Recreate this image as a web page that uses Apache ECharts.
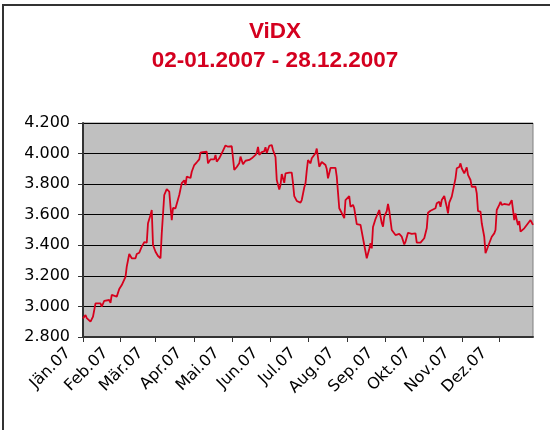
<!DOCTYPE html>
<html>
<head>
<meta charset="utf-8">
<script src="https://cdn.jsdelivr.net/npm/echarts@6/dist/echarts.min.js"></script>
<style>
  body { margin: 0; background: #fff; }
  #chart { position: absolute; left: 0; top: 0; width: 550px; height: 430px; }
  #frame { position: absolute; left: 2px; top: 4px; width: 548px; height: 426px;
           border-left: 2px solid #333; border-top: 2px solid #333; pointer-events: none; }
</style>
</head>
<body>
<div id="chart"></div>
<div id="frame"></div>
<script>
// ViDX daily closes 2007
var days = [
  '01-02','01-04','01-05','01-08','01-10','01-11','01-12','01-16','01-17','01-19',
  '01-23','01-24','01-25','01-29','01-31','02-02','02-05','02-06','02-08','02-10',
  '02-13','02-14','02-16','02-18','02-20','02-22','02-23','02-25','02-26','02-27',
  '03-01','03-03','03-05','03-06','03-08','03-10','03-12','03-13','03-14','03-15',
  '03-17','03-20','03-22','03-24','03-25','03-26','03-29','03-30','04-01','04-03',
  '04-05','04-06','04-08','04-11','04-12','04-14','04-17','04-18','04-19','04-21',
  '04-23','04-24','04-26','04-28','05-01','05-02','05-03','05-05','05-07','05-08',
  '05-10','05-12','05-15','05-17','05-20','05-21','05-22','05-23','05-25','05-27',
  '05-28','05-29','05-31','06-02','06-03','06-05','06-06','06-08','06-09','06-10',
  '06-12','06-13','06-16','06-18','06-19','06-20','06-22','06-23','06-25','06-26',
  '06-28','06-29','06-30','07-01','07-03','07-04','07-07','07-08','07-10','07-12',
  '07-15','07-16','07-17','07-19','07-23','07-24','07-26','07-28','07-30','07-31',
  '08-01','08-03','08-04','08-06','08-07','08-09','08-12','08-13','08-15','08-17',
  '08-19','08-20','08-21','08-22','08-24','08-27','08-29','08-30','08-31','09-02',
  '09-03','09-04','09-06','09-09','09-12','09-14','09-16','09-17','09-19','09-22',
  '09-25','09-26','09-29','10-02','10-04','10-05','10-07','10-08','10-11','10-12',
  '10-14','10-15','10-16','10-17','10-18','10-20','10-21','10-22','10-24','10-27',
  '10-28','10-30','10-31','11-01','11-03','11-05','11-06','11-08','11-09','11-12',
  '11-13','11-14','11-16','11-17','11-19','11-20','11-21','11-23','11-25','11-27',
  '11-28','11-29','12-01','12-02','12-03','12-05','12-07','12-09','12-11','12-12',
  '12-13','12-14','12-15','12-16','12-17','12-18','12-21','12-23','12-26','12-28'
];
var closes = [
  2922,2944,2924,2900,2933,2922,3020,3020,2998,3037,
  3042,3024,3075,3064,3114,3140,3194,3260,3343,3315,
  3315,3343,3351,3391,3420,3417,3544,3598,3631,3402,
  3358,3330,3315,3478,3729,3768,3751,3652,3565,3644,
  3642,3729,3807,3825,3794,3849,3840,3881,3925,3943,
  3962,4006,4010,4012,3936,3962,3962,3991,3947,3969,
  4002,3991,4053,4045,4048,3971,3893,3912,3936,3980,
  3930,3953,3958,3969,3991,4006,4043,3991,4010,4015,
  4041,4004,4050,4056,4023,3978,3827,3765,3794,3866,
  3809,3871,3875,3875,3806,3722,3690,3696,3679,3696,
  3778,3806,3889,3958,3936,3969,4002,4033,3914,3945,
  3925,3899,3838,3906,3906,3849,3642,3611,3578,3696,
  3703,3722,3652,3664,3642,3539,3533,3533,3402,3315,
  3376,3413,3380,3520,3572,3631,3546,3522,3587,3624,
  3670,3626,3500,3467,3474,3456,3406,3423,3482,3474,
  3478,3417,3417,3446,3511,3613,3626,3626,3642,3675,
  3685,3652,3696,3696,3722,3652,3609,3679,3718,3838,
  3904,3912,3936,3904,3871,3910,3860,3827,3783,3783,
  3740,3624,3620,3544,3456,3348,3358,3413,3456,3478,
  3500,3631,3664,3685,3664,3670,3668,3664,3696,3631,
  3565,3609,3565,3533,3559,3489,3511,3533,3565,3533
];
var tickDays = ['01-02','02-01','03-01','04-01','05-01','06-01','07-01','08-01','09-01','10-01','11-01','12-01'];
var monthLabels = ['Jän.07','Feb.07','Mär.07','Apr.07','Mai.07','Jun.07','Jul.07','Aug.07','Sep.07','Okt.07','Nov.07','Dez.07'];

function ts(md) {
  var p = md.split('-');
  return new Date(2007, +p[0] - 1, +p[1]).getTime();
}

var lineData = days.map(function (d, i) { return [ts(d), closes[i]]; });
var tickValues = tickDays.map(ts);

function deNum(v) {
  var k = Math.floor(v / 1000);
  var r = String(v % 1000);
  while (r.length < 3) r = '0' + r;
  return k + '.' + r;
}

var chart = echarts.init(document.getElementById('chart'));
chart.setOption({
  animation: false,
  title: {
    text: 'ViDX\n02-01.2007 - 28.12.2007',
    left: 'center',
    top: 12,
    textStyle: {
      fontFamily: 'Liberation Sans',
      fontSize: 22.5,
      fontWeight: 'bold',
      color: '#d4001f',
      lineHeight: 29
    }
  },
  grid: {
    left: 83, right: 17, top: 123, bottom: 93,
    show: true,
    backgroundColor: '#c0c0c0',
    borderColor: '#808080',
    borderWidth: 1,
    outerBoundsMode: 'none'
  },
  xAxis: {
    type: 'value',
    min: ts('01-02'),
    max: ts('12-28'),
    splitLine: { show: false },
    axisLine: { lineStyle: { color: '#333', width: 2 } },
    axisTick: { show: true, length: 5, customValues: tickValues, lineStyle: { color: '#333' } },
    axisLabel: {
      customValues: tickValues,
      rotate: 45,
      margin: 10,
      padding: [0, 13, 0, 0],
      verticalAlign: 'bottom',
      fontFamily: 'DejaVu Sans',
      fontSize: 16,
      color: '#000',
      formatter: function (v) { return monthLabels[new Date(v).getMonth()]; }
    }
  },
  yAxis: {
    type: 'value',
    min: 2800,
    max: 4200,
    interval: 200,
    axisLine: { show: true, lineStyle: { color: '#333', width: 2 } },
    axisTick: { show: true, length: 5, lineStyle: { color: '#333' } },
    splitLine: { lineStyle: { color: '#000', width: 1 } },
    axisLabel: {
      margin: 13,
      fontFamily: 'DejaVu Sans',
      fontSize: 16,
      color: '#000',
      formatter: deNum
    }
  },
  series: [{
    type: 'line',
    data: lineData,
    showSymbol: false,
    lineStyle: { color: '#d6001c', width: 1.8 }
  }]
});
</script>
</body>
</html>
